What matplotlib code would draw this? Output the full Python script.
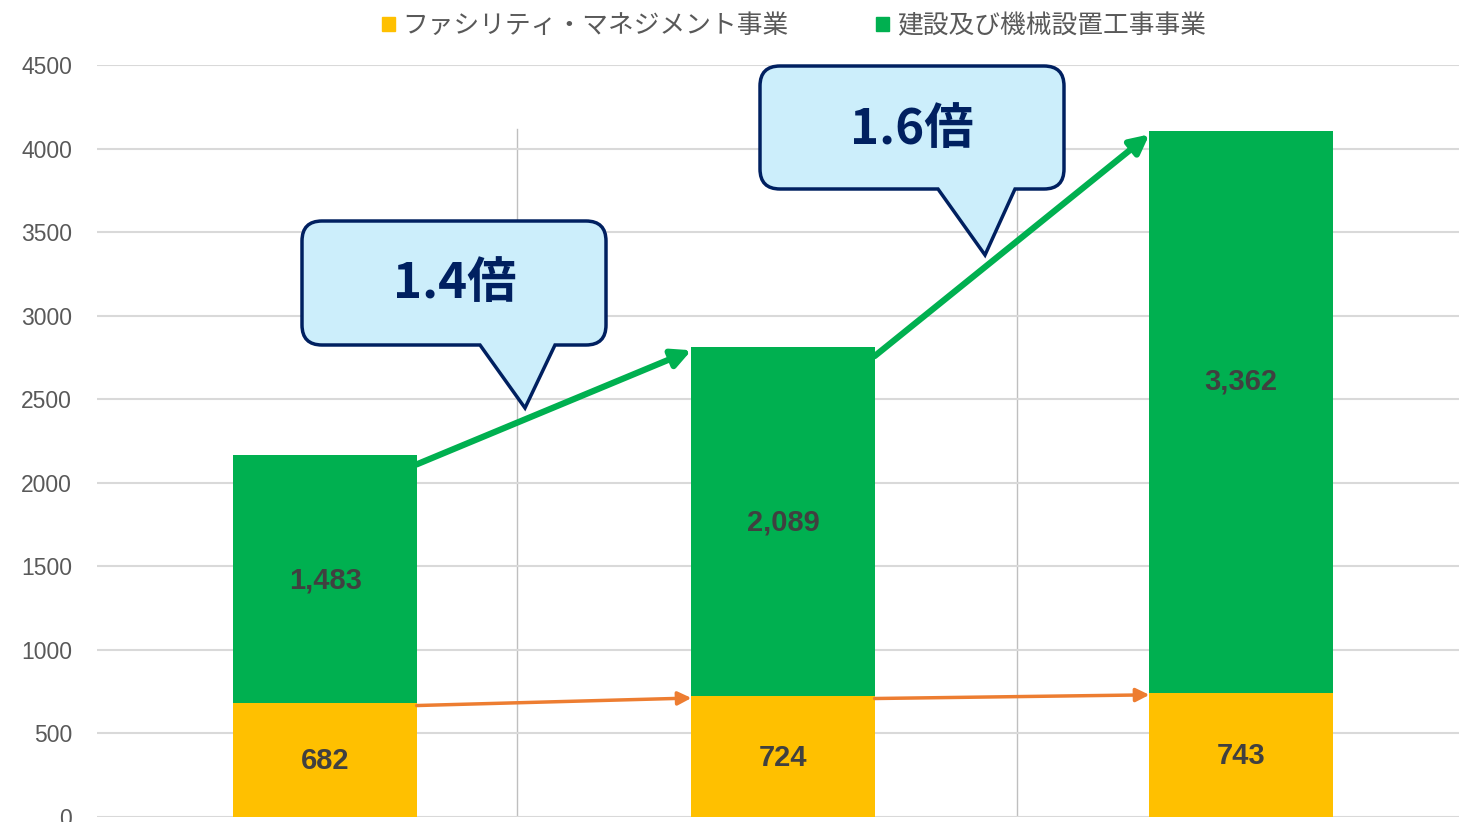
import matplotlib.pyplot as plt
import matplotlib.patches as mpatches
from matplotlib.path import Path

# data
categories = ['1', '2', '3']
fm_values = [682, 724, 743]          # ファシリティ・マネジメント事業
build_values = [1483, 2089, 3362]    # 建設及び機械設置工事事業
series_names = ['ファシリティ・マネジメント事業', '建設及び機械設置工事事業']
ratio_labels = ['1.4倍', '1.6倍']
y_ticks = [0, 500, 1000, 1500, 2000, 2500, 3000, 3500, 4000, 4500]

YELLOW = '#FFC000'
GREEN = '#00B050'
ORANGE = '#ED7D31'
NAVY = '#002060'
BUBBLE = '#CCEEFB'
GRAY_TXT = '#595959'
JP = ['Noto Sans CJK JP', 'DejaVu Sans']

W, H = 1459, 822
fig = plt.figure(figsize=(W / 100, H / 100), dpi=100)
ax = fig.add_axes([97 / W, 5 / H, 1 - 97 / W, 752 / H])

x = list(range(len(categories)))
bw = 0.4
ax.bar(x, fm_values, width=bw, color=YELLOW, zorder=2)
ax.bar(x, build_values, width=bw, bottom=fm_values, color=GREEN, zorder=2)
totals = [a + b for a, b in zip(fm_values, build_values)]

# value labels inside the bars (last green label sits a bit higher in the original)
green_label_shift = [0, 0, 23]
for i in x:
    ax.annotate(f'{fm_values[i]:,}', (i, fm_values[i] / 2), xytext=(0, -1),
                textcoords='offset points', ha='center', va='center',
                fontsize=21, fontweight='bold', color='#404040', family='Liberation Sans', zorder=4)
    ax.annotate(f'{build_values[i]:,}', (i, fm_values[i] + build_values[i] / 2),
                xytext=(0, green_label_shift[i] - 1), textcoords='offset points', ha='center',
                va='center', fontsize=21, fontweight='bold', color='#404040',
                family='Liberation Sans', zorder=4)

# growth arrows between bars
for i in range(len(x) - 1):
    ax.annotate('', xy=(i + 1 - bw / 2, totals[i + 1] - 20), xytext=(i + bw / 2, totals[i] - 55),
                arrowprops=dict(arrowstyle='-|>', color=GREEN, lw=4.5, mutation_scale=28,
                                shrinkA=0, shrinkB=0), zorder=5)
    ax.annotate('', xy=(i + 1 - bw / 2, fm_values[i + 1] - 12), xytext=(i + bw / 2, fm_values[i] - 15),
                arrowprops=dict(arrowstyle='-|>', color=ORANGE, lw=2.5, mutation_scale=20,
                                shrinkA=0, shrinkB=0), zorder=5)

ax.set_xlim(-0.498, 2.476)
ax.set_ylim(0, 4500)
ax.set_yticks(y_ticks)
ax.set_xticks([])
ax.tick_params(axis='y', length=0, pad=18, labelsize=16.5, labelcolor=GRAY_TXT)
for lbl in ax.get_yticklabels():
    lbl.set_family('Liberation Sans')
for s in ax.spines.values():
    s.set_visible(False)
ax.yaxis.grid(True, color='#D9D9D9', lw=1.5, zorder=0)

# thin vertical separators
for xv in [0.42, 1.51]:
    ax.plot([xv, xv], [0, 4120], color='#BFBFBF', lw=1, zorder=1)


def bubble(x0, y0, x1, y1, tl, tr, tip, r=20):
    # rounded box with a tail, pixel coords (y down) -> figure fraction
    pts = [
        (Path.MOVETO, (x0 + r, y0)), (Path.LINETO, (x1 - r, y0)),
        (Path.CURVE3, (x1, y0)), (Path.CURVE3, (x1, y0 + r)),
        (Path.LINETO, (x1, y1 - r)),
        (Path.CURVE3, (x1, y1)), (Path.CURVE3, (x1 - r, y1)),
        (Path.LINETO, (tr, y1)), (Path.LINETO, tip), (Path.LINETO, (tl, y1)),
        (Path.LINETO, (x0 + r, y1)),
        (Path.CURVE3, (x0, y1)), (Path.CURVE3, (x0, y1 - r)),
        (Path.LINETO, (x0, y0 + r)),
        (Path.CURVE3, (x0, y0)), (Path.CURVE3, (x0 + r, y0)),
        (Path.CLOSEPOLY, (x0 + r, y0)),
    ]
    codes = [c for c, _ in pts]
    verts = [(px / W, 1 - py / H) for _, (px, py) in pts]
    patch = mpatches.PathPatch(Path(verts, codes), facecolor=BUBBLE, edgecolor=NAVY,
                               lw=2.5, transform=fig.transFigure, zorder=6)
    fig.add_artist(patch)


bubble(302, 221, 606, 345, 480, 555, (525, 408))
bubble(760, 66, 1064, 189, 938, 1015, (985, 255))
fig.text(455 / W, 1 - 283 / H, ratio_labels[0], ha='center', va='center', fontsize=35.5,
         fontweight='bold', color=NAVY, family=JP, zorder=7)
fig.text(912 / W, 1 - 129 / H, ratio_labels[1], ha='center', va='center', fontsize=35.5,
         fontweight='bold', color=NAVY, family=JP, zorder=7)

handles = [mpatches.Patch(color=YELLOW, label=series_names[0]),
           mpatches.Patch(color=GREEN, label=series_names[1])]
fig.legend(handles=handles, loc='upper center', bbox_to_anchor=(794 / W, 1.012), ncol=2,
           frameon=False, handlelength=0.5, handleheight=0.5, handletextpad=0.3,
           columnspacing=3.4, prop={'family': JP, 'size': 18.5},
           labelcolor=GRAY_TXT)

fig.savefig('out.png', dpi=100)
